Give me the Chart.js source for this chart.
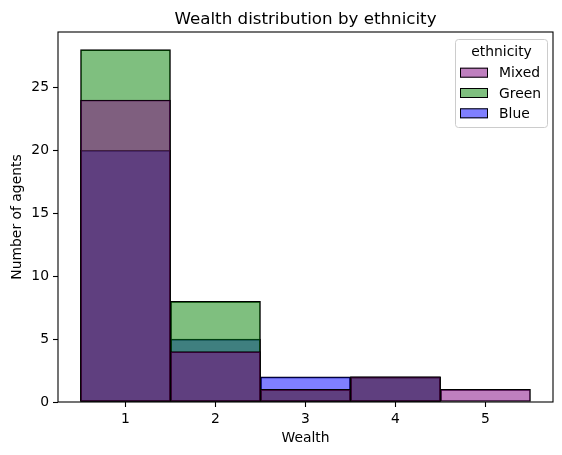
<!DOCTYPE html>
<html lang="en">
<head>
    <meta charset="UTF-8">
    <title>Wealth distribution by ethnicity</title>
    <script src="https://cdn.jsdelivr.net/npm/chart.js"></script>
    <style>
        body {
            margin: 0;
            padding: 0;
            background-color: #ffffff;
        }
        #wrap {
            width: 562px;
            height: 455px;
        }
    </style>
</head>
<body>

    <div id="wrap">
        <canvas id="histChart" width="562" height="455"></canvas>
    </div>

    <script>
        // wealth bins and number of agents per ethnicity
        const wealthBins = [1, 2, 3, 4, 5];
        const mixedCounts = [24, 4, 1, 2, 1];
        const greenCounts = [28, 8, 1, 2, 0];
        const blueCounts = [20, 5, 2, 2, 0];
        const yTicks = [0, 5, 10, 15, 20, 25];

        const FONT = "'DejaVu Sans', sans-serif";

        function toPoints(counts) {
            return wealthBins.map((w, i) => ({ x: w, y: counts[i] }));
        }

        // frame, titles and the legend box, drawn like matplotlib does
        const decorations = {
            id: 'decorations',
            afterDraw(chart) {
                const ctx = chart.ctx;
                const area = chart.chartArea;
                ctx.save();

                // axes frame
                ctx.strokeStyle = '#000';
                ctx.lineWidth = 1.1;
                ctx.strokeRect(area.left, area.top, area.right - area.left, area.bottom - area.top);

                ctx.fillStyle = '#000';
                ctx.textAlign = 'center';
                ctx.textBaseline = 'alphabetic';
                ctx.font = '16.7px ' + FONT;
                ctx.fillText('Wealth distribution by ethnicity', (area.left + area.right) / 2, 24);

                ctx.font = '13.9px ' + FONT;
                ctx.fillText('Wealth', (area.left + area.right) / 2, 442);

                ctx.save();
                ctx.translate(21, (area.top + area.bottom) / 2);
                ctx.rotate(-Math.PI / 2);
                ctx.fillText('Number of agents', 0, 0);
                ctx.restore();

                // legend
                const bx = 455.5, by = 39.5, bw = 92, bh = 88;
                ctx.beginPath();
                ctx.roundRect(bx, by, bw, bh, 3);
                ctx.fillStyle = 'rgba(255,255,255,0.8)';
                ctx.fill();
                ctx.strokeStyle = '#cccccc';
                ctx.lineWidth = 1;
                ctx.stroke();

                ctx.fillStyle = '#000';
                ctx.textAlign = 'center';
                ctx.textBaseline = 'middle';
                ctx.fillText('ethnicity', bx + bw / 2, 52);

                ctx.textAlign = 'left';
                chart.data.datasets.forEach((ds, i) => {
                    const cy = 72.7 + i * 20.3;
                    ctx.fillStyle = '#fff';
                    ctx.fillRect(460, cy - 5, 28, 10);
                    ctx.fillStyle = ds.backgroundColor;
                    ctx.fillRect(460, cy - 5, 28, 10);
                    ctx.strokeStyle = '#000';
                    ctx.lineWidth = 1;
                    ctx.strokeRect(460.5, cy - 4.5, 27, 9);
                    ctx.fillStyle = '#000';
                    ctx.fillText(ds.label, 499, cy + 1);
                });

                ctx.restore();
            }
        };

        const ctx = document.getElementById('histChart').getContext('2d');
        const histChart = new Chart(ctx, {
            type: 'bar',
            data: {
                datasets: [
                    { label: 'Mixed', data: toPoints(mixedCounts), backgroundColor: 'rgba(128,0,128,0.5)' },
                    { label: 'Green', data: toPoints(greenCounts), backgroundColor: 'rgba(0,128,0,0.5)' },
                    { label: 'Blue', data: toPoints(blueCounts), backgroundColor: 'rgba(0,0,255,0.5)' }
                ]
            },
            options: {
                responsive: false,
                animation: false,
                layout: { padding: { left: 0, right: 9, top: 32, bottom: 0 } },
                datasets: {
                    bar: {
                        grouped: false,
                        barPercentage: 1,
                        categoryPercentage: 1,
                        borderColor: '#000',
                        borderWidth: 1,
                        borderSkipped: false
                    }
                },
                plugins: {
                    legend: { display: false },
                    title: { display: false },
                    tooltip: { enabled: false }
                },
                scales: {
                    x: {
                        type: 'linear',
                        min: 0.25,
                        max: 5.75,
                        offset: false,
                        afterBuildTicks: s => { s.ticks = wealthBins.map(v => ({ value: v })); },
                        afterFit: s => { s.height = 53; },
                        grid: { offset: false, drawOnChartArea: false, drawTicks: true, tickLength: 5, tickColor: '#000', tickWidth: 1.1 },
                        border: { display: false },
                        ticks: { color: '#000', padding: 4, maxRotation: 0, font: { family: FONT, size: 13.9 } }
                    },
                    y: {
                        min: 0,
                        max: 29.4,
                        afterBuildTicks: s => { s.ticks = yTicks.map(v => ({ value: v })); },
                        afterFit: s => { s.width = 58; },
                        grid: { drawOnChartArea: false, drawTicks: true, tickLength: 5, tickColor: '#000', tickWidth: 1.1 },
                        border: { display: false },
                        ticks: { color: '#000', padding: 4, font: { family: FONT, size: 13.9 } }
                    }
                }
            },
            plugins: [decorations]
        });
    </script>

</body>
</html>
